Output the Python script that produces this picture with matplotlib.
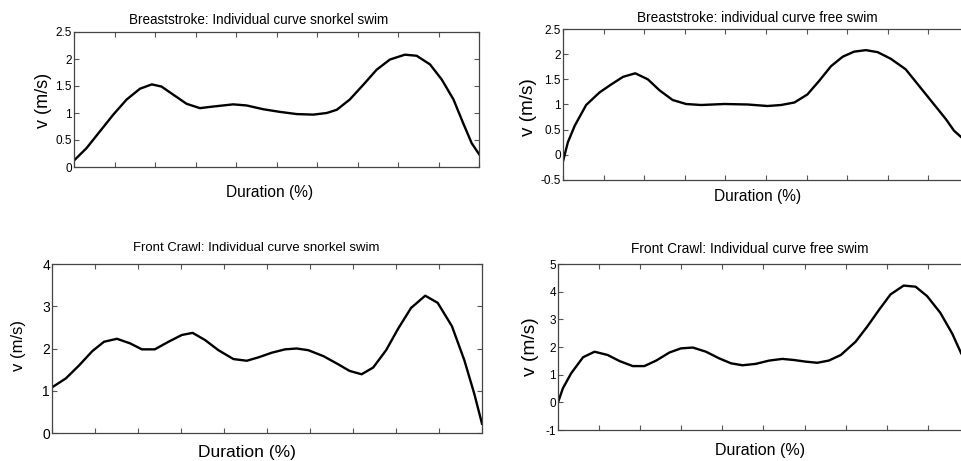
import matplotlib

matplotlib.use("Agg")
import matplotlib.pyplot as plt

plt.rcParams["font.family"] = ["Liberation Sans", "DejaVu Sans"]

W, H = 962, 461

# --- data (x = % of cycle duration, v in m/s) ---
bs_snorkel_x = [0, 3.1, 6.4, 9.7, 13.0, 16.3, 19.2, 21.6, 24.5, 27.8, 31.1, 34.4, 39.3,
                42.6, 46.7, 50.9, 55.0, 59.1, 62.4, 64.9, 68.1, 71.4, 74.7, 78.0, 81.7,
                84.6, 87.9, 90.8, 93.7, 96.1, 98.2, 100]
bs_snorkel_v = [0.12, 0.35, 0.66, 0.97, 1.25, 1.45, 1.53, 1.49, 1.34, 1.17, 1.09, 1.12, 1.16,
                1.14, 1.07, 1.02, 0.98, 0.97, 1.00, 1.06, 1.25, 1.52, 1.80, 1.99, 2.08,
                2.06, 1.90, 1.62, 1.25, 0.81, 0.44, 0.24]

bs_free_x = [0, 1.2, 2.9, 5.7, 9.0, 11.9, 14.8, 17.8, 20.9, 23.8, 27.0, 30.3, 34.0, 39.8,
             45.5, 50.4, 53.7, 57.0, 60.2, 63.1, 66.0, 68.9, 71.7, 74.6, 77.5, 80.7, 84.4,
             87.7, 91.0, 94.3, 96.3, 98.1, 100]
bs_free_v = [-0.13, 0.25, 0.58, 0.99, 1.24, 1.40, 1.55, 1.62, 1.50, 1.28, 1.09, 1.01, 0.99, 1.01,
             1.00, 0.97, 0.99, 1.04, 1.20, 1.47, 1.76, 1.95, 2.05, 2.08, 2.04, 1.91, 1.70,
             1.37, 1.04, 0.71, 0.48, 0.35, 0.26]

fc_snorkel_x = [0, 3.2, 6.3, 9.4, 12.1, 15.1, 18.2, 20.9, 23.9, 27.1, 30.2, 32.7, 35.6, 38.7,
                42.2, 45.3, 48.0, 51.1, 54.2, 56.9, 59.6, 63.1, 66.5, 69.2, 72.0, 74.7, 77.7,
                80.5, 83.5, 86.8, 89.7, 93.0, 95.9, 98.2, 100]
fc_snorkel_v = [1.08, 1.29, 1.60, 1.94, 2.16, 2.23, 2.12, 1.98, 1.98, 2.16, 2.32, 2.37, 2.20, 1.96,
                1.75, 1.71, 1.79, 1.90, 1.98, 2.00, 1.96, 1.82, 1.63, 1.47, 1.39, 1.55, 1.96,
                2.47, 2.96, 3.25, 3.08, 2.53, 1.72, 0.93, 0.22]

fc_free_x = [0, 1.2, 3.2, 6.1, 8.9, 12.1, 15.0, 18.2, 21.0, 23.9, 27.1, 29.9, 32.8, 36.0, 39.2,
             42.1, 44.9, 48.1, 51.4, 54.6, 57.4, 60.3, 63.1, 65.9, 68.8, 72.4, 75.2, 78.1,
             80.9, 84.1, 87.0, 89.8, 93.0, 95.9, 98.1, 100]
fc_free_v = [0.0, 0.51, 1.05, 1.63, 1.83, 1.71, 1.49, 1.31, 1.31, 1.51, 1.80, 1.95, 1.98, 1.83, 1.59,
             1.41, 1.34, 1.39, 1.51, 1.57, 1.53, 1.47, 1.43, 1.51, 1.71, 2.19, 2.73, 3.34,
             3.90, 4.22, 4.18, 3.84, 3.24, 2.49, 1.77, 1.35]

titles = ["Breaststroke: Individual curve snorkel swim",
          "Breaststroke: individual curve free swim",
          "Front Crawl: Individual curve snorkel swim",
          "Front Crawl: Individual curve free swim"]
y_ticks = [[0, 0.5, 1, 1.5, 2, 2.5],
           [-0.5, 0, 0.5, 1, 1.5, 2, 2.5],
           [0, 1, 2, 3, 4],
           [-1, 0, 1, 2, 3, 4, 5]]
x_ticks = list(range(0, 101, 10))

# --- layout in pixels: (left, right, top, bottom) of each axes box ---
boxes = [(74, 479, 32, 167), (563, 969, 29, 180), (52, 482, 264, 433), (558, 969, 264, 430)]
title_pos = [(259, 20), (757, 18), (256, 248), (750, 249)]
ylabel_pos = [(43, 100), (529, 107), (19, 345), (531, 347)]
xlabel_pos = [(270, 193), (758, 197), (247, 452), (760, 450)]
title_size = [9.75, 9.85, 9.45, 9.9]
ylabel_size = [13.0, 13.6, 12.0, 13.8]
xlabel_size = [11.2, 11.2, 12.5, 11.5]
tick_size = [8.5, 8.5, 10, 8.5]

series = [(bs_snorkel_x, bs_snorkel_v), (bs_free_x, bs_free_v),
          (fc_snorkel_x, fc_snorkel_v), (fc_free_x, fc_free_v)]

fig = plt.figure(figsize=(W / 100, H / 100), dpi=100)

for i, (xs, vs) in enumerate(series):
    left, right, top, bottom = boxes[i]
    ax = fig.add_axes([left / W, (H - bottom) / H, (right - left) / W, (bottom - top) / H])
    ax.plot(xs, vs, color="black", lw=1.7, solid_joinstyle="round")
    ax.set_xlim(0, 100)
    ax.set_ylim(y_ticks[i][0], y_ticks[i][-1])
    ax.set_xticks(x_ticks)
    ax.set_xticklabels([])
    ax.set_yticks(y_ticks[i])
    ax.set_yticklabels([f"{t:g}" for t in y_ticks[i]])
    ax.tick_params(direction="in", top=True, right=True, length=3.5, width=0.8,
                   color="#555555", labelsize=tick_size[i], pad=1.5)
    for sp in ax.spines.values():
        sp.set_color("#444444")
        sp.set_linewidth(0.9)

    tx, ty = title_pos[i]
    fig.text(tx / W, 1 - ty / H, titles[i], ha="center", va="center", fontsize=title_size[i])
    lx, ly = ylabel_pos[i]
    fig.text(lx / W, 1 - ly / H, "v (m/s)", ha="center", va="center", rotation=90,
             fontsize=ylabel_size[i])
    dx, dy = xlabel_pos[i]
    fig.text(dx / W, 1 - dy / H, "Duration (%)", ha="center", va="center",
             fontsize=xlabel_size[i])

fig.savefig("out.png", dpi=100)
